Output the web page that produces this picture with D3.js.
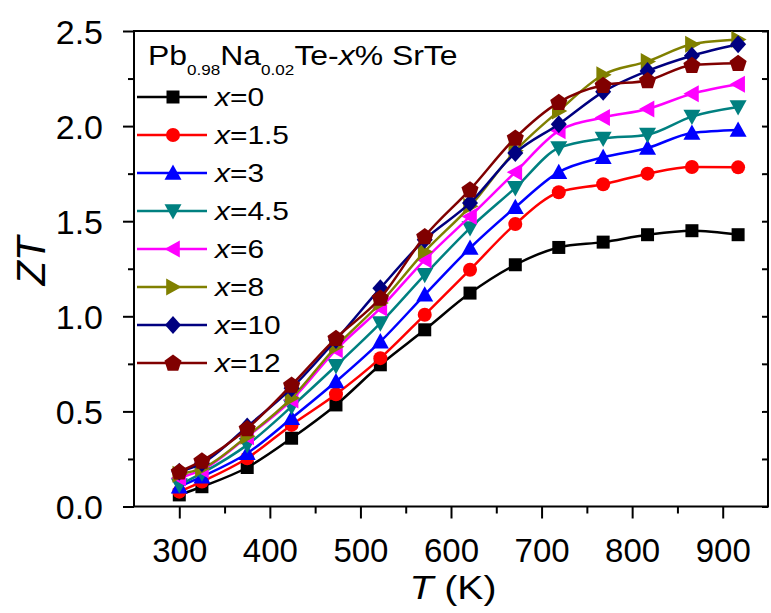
<!DOCTYPE html>
<html>
<head>
<meta charset="utf-8">
<script src="https://cdn.jsdelivr.net/npm/d3@7"></script>
<style>
  html, body { margin: 0; padding: 0; background: #fff; }
  svg { display: block; font-family: "Liberation Sans", Arial, sans-serif; }
</style>
</head>
<body>
<svg id="chart" width="771" height="613"></svg>
<script>
// Temperatures (K)
const temps = [300, 325, 375, 424, 473, 522, 571, 621, 671, 719, 768, 817, 866, 917];

// ZT for each SrTe content
const zt_x0   = [0.061, 0.104, 0.205, 0.359, 0.534, 0.745, 0.929, 1.122, 1.271, 1.362, 1.390, 1.429, 1.450, 1.429];
const zt_x1_5 = [0.078, 0.131, 0.254, 0.429, 0.590, 0.780, 1.008, 1.245, 1.485, 1.652, 1.694, 1.750, 1.785, 1.783];
const zt_x3   = [0.104, 0.157, 0.280, 0.464, 0.657, 0.867, 1.113, 1.359, 1.573, 1.758, 1.836, 1.885, 1.964, 1.980];
const zt_x4_5 = [0.113, 0.175, 0.324, 0.525, 0.740, 0.964, 1.218, 1.464, 1.675, 1.885, 1.935, 1.955, 2.050, 2.100];
const zt_x6   = [0.150, 0.192, 0.367, 0.560, 0.824, 1.043, 1.297, 1.525, 1.758, 1.975, 2.045, 2.090, 2.170, 2.220];
const zt_x8   = [0.170, 0.200, 0.370, 0.570, 0.840, 1.070, 1.340, 1.578, 1.870, 2.080, 2.270, 2.340, 2.430, 2.455];
const zt_x10  = [0.183, 0.227, 0.420, 0.622, 0.876, 1.148, 1.403, 1.596, 1.859, 2.010, 2.180, 2.290, 2.370, 2.430];
const zt_x12  = [0.183, 0.240, 0.410, 0.639, 0.885, 1.096, 1.420, 1.666, 1.938, 2.125, 2.215, 2.240, 2.320, 2.330];

const seriesLabels = ["0", "1.5", "3", "4.5", "6", "8", "10", "12"];
const seriesValues = [zt_x0, zt_x1_5, zt_x3, zt_x4_5, zt_x6, zt_x8, zt_x10, zt_x12];
const seriesColors = ["#000000", "#ff0000", "#0000ff", "#008080", "#ff00ff", "#808000", "#000080", "#800000"];
const seriesShapes = ["square", "circle", "triUp", "triDown", "triLeft", "triRight", "diamond", "pentagon"];

const xTicks = [300, 400, 500, 600, 700, 800, 900];
const yTicks = [0.0, 0.5, 1.0, 1.5, 2.0, 2.5];

const svg = d3.select("#chart");
const x = d3.scaleLinear().domain([250, 950]).range([134, 768]);
const y = d3.scaleLinear().domain([0, 2.5]).range([506.5, 31]);

// marker path around (0,0)
function markerPath(shape) {
  const p = d3.path();
  const poly = pts => { p.moveTo(pts[0][0], pts[0][1]); pts.slice(1).forEach(q => p.lineTo(q[0], q[1])); p.closePath(); };
  const t = 8.5;
  switch (shape) {
    case "square": poly([[-6.5,-6.5],[6.5,-6.5],[6.5,6.5],[-6.5,6.5]]); break;
    case "circle": p.arc(0, 0, 7, 0, 2 * Math.PI); break;
    case "triUp": poly([[0,-t],[t,t*0.8],[-t,t*0.8]]); break;
    case "triDown": poly([[0,t],[t,-t*0.8],[-t,-t*0.8]]); break;
    case "triLeft": poly([[-t,0],[t*0.8,-t],[t*0.8,t]]); break;
    case "triRight": poly([[t,0],[-t*0.8,-t],[-t*0.8,t]]); break;
    case "diamond": poly([[0,-9],[8,0],[0,9],[-8,0]]); break;
    case "pentagon": {
      const pts = d3.range(5).map(i => {
        const a = -Math.PI / 2 + i * 2 * Math.PI / 5;
        return [9 * Math.cos(a), 9 * Math.sin(a) + 0.5];
      });
      poly(pts); break;
    }
  }
  return p.toString();
}

// frame
const axisG = svg.append("g").attr("stroke", "#000").attr("stroke-width", 2).attr("fill", "none");
axisG.append("rect").attr("x", x.range()[0]).attr("y", y.range()[1])
  .attr("width", x.range()[1] - x.range()[0]).attr("height", y.range()[0] - y.range()[1]);

// bottom axis
const xAxis = d3.axisBottom(x).tickValues(xTicks).tickSize(12).tickSizeOuter(0).tickFormat(d3.format("d"));
const gx = svg.append("g").attr("transform", `translate(0,${y.range()[0]})`).call(xAxis);
gx.select(".domain").remove();
gx.selectAll(".tick line").attr("stroke-width", 2);
gx.selectAll(".tick text").attr("font-size", 33).attr("dy", 0).attr("y", 55)
  .attr("font-family", "Liberation Sans, Arial, sans-serif").attr("fill", "#000");

const xMinor = d3.axisBottom(x).tickValues(xTicks.map(v => v + 50).concat([xTicks[0] - 50]).filter(v => v > 250 && v < 950)).tickSize(7).tickFormat("").tickSizeOuter(0);
const gxm = svg.append("g").attr("transform", `translate(0,${y.range()[0]})`).call(xMinor);
gxm.select(".domain").remove();
gxm.selectAll(".tick line").attr("stroke-width", 2);

// left axis
const yAxis = d3.axisLeft(y).tickValues(yTicks).tickSize(11).tickSizeOuter(0).tickFormat(d3.format(".1f"));
const gy = svg.append("g").attr("transform", `translate(${x.range()[0]},0)`).call(yAxis);
gy.select(".domain").remove();
gy.selectAll(".tick line").attr("stroke-width", 2);
gy.selectAll(".tick text").attr("font-size", 34).attr("x", -31).attr("dy", "0.36em")
  .attr("font-family", "Liberation Sans, Arial, sans-serif").attr("fill", "#000");

const yMinorVals = yTicks.slice(0, -1).map(v => v + 0.25);
const yMinor = d3.axisLeft(y).tickValues(yMinorVals).tickSize(6).tickFormat("").tickSizeOuter(0);
const gym = svg.append("g").attr("transform", `translate(${x.range()[0]},0)`).call(yMinor);
gym.select(".domain").remove();
gym.selectAll(".tick line").attr("stroke-width", 2);

// inward ticks on right edge
const yRight = d3.axisLeft(y).tickValues(yTicks.concat(yMinorVals)).tickSize(6).tickFormat("").tickSizeOuter(0);
const gyr = svg.append("g").attr("transform", `translate(${x.range()[1]},0)`).call(yRight);
gyr.select(".domain").remove();
gyr.selectAll(".tick line").attr("stroke-width", 2);

// axis titles
svg.append("text").attr("transform", "translate(45,261) rotate(-90)")
  .attr("text-anchor", "middle").attr("font-size", 40).attr("font-style", "italic").text("ZT");
const xt = svg.append("text").attr("transform", "translate(453,599) scale(1.15,1)")
  .attr("text-anchor", "middle").attr("font-size", 34);
xt.append("tspan").attr("font-style", "italic").text("T");
xt.append("tspan").text(" (K)");

// series lines and markers
const line = d3.line().x((d, i) => x(temps[i])).y(d => y(d)).curve(d3.curveMonotoneX);
const plot = svg.append("g");
seriesValues.forEach((vals, s) => {
  plot.append("path").datum(vals).attr("d", line)
    .attr("fill", "none").attr("stroke", seriesColors[s]).attr("stroke-width", 2.5);
  plot.append("g").selectAll("path").data(vals).join("path")
    .attr("transform", (d, i) => `translate(${x(temps[i])},${y(d)})`)
    .attr("d", markerPath(seriesShapes[s]))
    .attr("fill", seriesColors[s]);
});

// legend
const lt = svg.append("text").attr("transform", "translate(148,65) scale(1.14,1)")
  .attr("font-size", 28).attr("fill", "#000");
lt.append("tspan").text("Pb");
lt.append("tspan").attr("font-size", 15).attr("dy", 10).text("0.98");
lt.append("tspan").attr("dy", -10).text("Na");
lt.append("tspan").attr("font-size", 15).attr("dy", 10).text("0.02");
lt.append("tspan").attr("dy", -10).text("Te-");
lt.append("tspan").attr("font-style", "italic").text("x");
lt.append("tspan").text("% SrTe");

const leg = svg.append("g");
seriesLabels.forEach((lab, s) => {
  const cy = 97 + s * 38;
  leg.append("line").attr("x1", 137).attr("x2", 207).attr("y1", cy).attr("y2", cy)
    .attr("stroke", seriesColors[s]).attr("stroke-width", 2.5);
  leg.append("path").attr("transform", `translate(173,${cy})`)
    .attr("d", markerPath(seriesShapes[s])).attr("fill", seriesColors[s]);
  const t = leg.append("text").attr("transform", `translate(215,${cy + 9}) scale(1.15,1)`)
    .attr("font-size", 26).attr("fill", "#000");
  t.append("tspan").attr("font-style", "italic").text("x");
  t.append("tspan").text("=" + lab);
});
</script>
</body>
</html>
